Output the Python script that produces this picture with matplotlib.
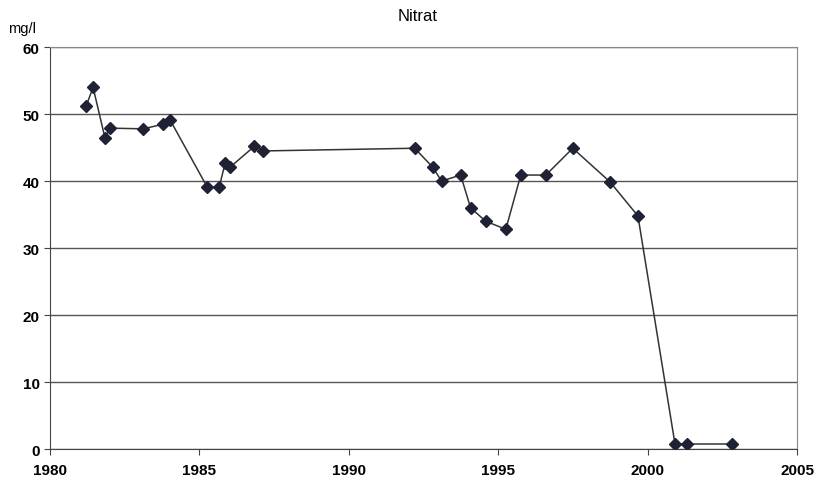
import matplotlib.pyplot as plt

years = [1981.21, 1981.44, 1981.84, 1982.01, 1983.12, 1983.79, 1984.02,
         1985.26, 1985.66, 1985.86, 1986.03, 1986.84, 1987.14,
         1992.20, 1992.80, 1993.10, 1993.74, 1994.07, 1994.58, 1995.25,
         1995.75, 1996.59, 1997.49, 1998.73, 1999.67,
         2000.91, 2001.31, 2002.82]
nitrat = [51.2, 54.0, 46.4, 47.9, 47.8, 48.5, 49.1,
          39.1, 39.1, 42.7, 42.1, 45.2, 44.5,
          44.9, 42.1, 40.0, 40.9, 36.0, 34.0, 32.8,
          40.9, 40.9, 44.9, 39.9, 34.8,
          0.75, 0.75, 0.75]
xticks = [1980, 1985, 1990, 1995, 2000, 2005]
yticks = [0, 10, 20, 30, 40, 50, 60]

plt.rcParams['font.family'] = ['Liberation Sans', 'DejaVu Sans']

fig = plt.figure(figsize=(8.16, 4.81), dpi=100)
ax = fig.add_axes([0.0613, 0.0644, 0.9157, 0.8356])

ax.plot(years, nitrat, color='#333333', lw=1.1, marker='D', ms=6,
        mfc='#1f2235', mec='#1f2235', zorder=3)

ax.set_xlim(1980, 2005)
ax.set_ylim(0, 60)
ax.set_xticks(xticks)
ax.set_yticks(yticks)
ax.grid(axis='y', color='#555555', lw=1.0)
ax.tick_params(direction='out', length=4, width=0.8, colors='#444444',
               labelcolor='black', labelsize=11)
for lbl in ax.get_xticklabels() + ax.get_yticklabels():
    lbl.set_fontweight('bold')
ax.tick_params(axis='x', pad=6)
for s in ax.spines.values():
    s.set_color('#888888')
    s.set_linewidth(0.8)
ax.spines['left'].set_color('#444444')
ax.spines['bottom'].set_color('#444444')

fig.text(0.512, 0.965, 'Nitrat', ha='center', va='center', fontsize=12)
fig.text(0.01, 0.94, 'mg/l', ha='left', va='center', fontsize=10.5)

fig.savefig('out.png', dpi=100)
